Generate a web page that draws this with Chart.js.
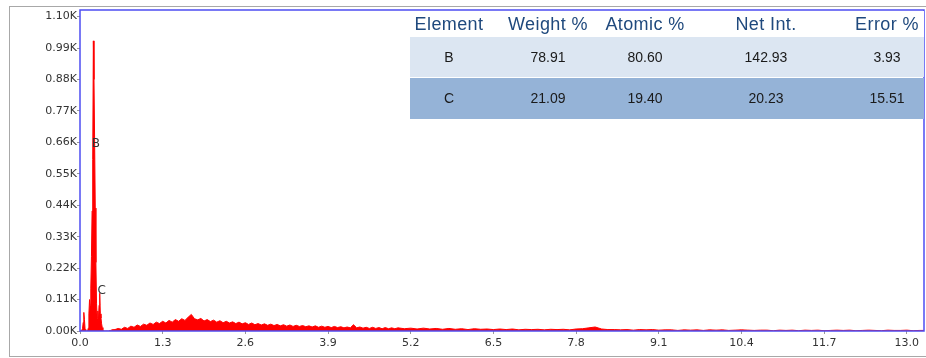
<!DOCTYPE html>
<html>
<head>
<meta charset="utf-8">
<script src="https://cdn.jsdelivr.net/npm/chart.js@4.4.1/dist/chart.umd.min.js"></script>
<style>
  html, body { margin: 0; padding: 0; background: #fff; overflow: hidden; }
  #wrap { position: relative; width: 926px; height: 358px; }
  #frame { position: absolute; left: 9px; top: 6px; width: 940px; height: 349px; border: 1px solid #a8a8a8; }
  #spectrum { position: absolute; left: 0; top: 0; }
  #tbl { position: absolute; left: 410px; top: 11px; width: 514px; font-family: "Liberation Sans", Arial, sans-serif; }
  .row { position: relative; width: 100%; }
  .cell { position: absolute; top: 0; text-align: center; white-space: nowrap; }
  .head { height: 26px; background: #fff; color: #1f497d; font-size: 18px; letter-spacing: 0.4px; }
  .head .cell { line-height: 26px; }
  .r1 { height: 40px; background: #dce6f2; margin-bottom: 1px; }
  .r2 { height: 41px; background: #95b3d7; }
  .r1 .cell, .r2 .cell { line-height: 40px; font-size: 14px; color: #1a1a1a; }
</style>
</head>
<body>
<div id="wrap">
  <div id="frame"></div>
  <canvas id="spectrum" width="926" height="358"></canvas>
  <div id="tbl"></div>
</div>
<script>
// low energy region, 0.01 keV channels starting at 0.00
const lowStart = 0.0, lowStep = 0.01;
const lowCounts = [0, 0, 0, 0, 8, 30, 65, 40, 6, 0, 0, 0, 0, 10, 60, 110, 90, 150, 260, 420,
  600, 1015, 880, 660, 430, 240, 95, 45, 70, 35, 90, 132, 60, 45, 25, 12, 5, 2, 0, 0,
  0, 0, 0, 0, 0, 0, 1, 2, 2, 3, 4];

// background 0.55 - 5.00 keV, 0.05 keV steps
const midStart = 0.55, midStep = 0.05;
const midCounts = [5, 9, 6, 13, 9, 17, 13, 21, 16, 24,
  20, 28, 23, 31, 26, 34, 28, 37, 31, 40,
  34, 43, 37, 48, 58, 43, 39, 44, 35, 40,
  33, 38, 31, 36, 29, 34, 28, 32, 26, 31,
  25, 29, 23, 28, 22, 26, 21, 25, 20, 24,
  19, 23, 18, 22, 17, 21, 16, 20, 16, 19,
  15, 18, 14, 18, 13, 17, 13, 16, 12, 16,
  12, 15, 11, 14, 11, 22, 11, 14, 10, 13,
  9, 13, 9, 12, 8, 12, 8, 11, 8, 11];

// background 5.1 - 13.3 keV, 0.1 keV steps
const highStart = 5.1, highStep = 0.1;
const highCounts = [8, 10, 7, 10, 7, 9, 6, 9, 6, 8,
  5, 8, 6, 7, 5, 7, 5, 7, 4, 6,
  5, 6, 4, 6, 5, 6, 4, 7, 8, 11,
  14, 7, 5, 5, 4, 5, 3, 5, 4, 5,
  3, 4, 4, 2, 4, 3, 4, 2, 4, 3,
  4, 2, 3, 4, 3, 2, 3, 3, 1, 3,
  2, 3, 1, 3, 2, 3, 1, 2, 3, 2,
  3, 1, 2, 3, 2, 1, 3, 2, 2, 3,
  1, 2, 2];

const peakNames = ['B', 'C'];
const peakEnergy = [0.183, 0.277];
const peakLabelCounts = [654, 142];

const tableHeaders = ['Element', 'Weight %', 'Atomic %', 'Net Int.', 'Error %'];
const tableElements = ['B', 'C'];
const weightPct = ['78.91', '21.09'];
const atomicPct = ['80.60', '19.40'];
const netInt = ['142.93', '20.23'];
const errorPct = ['3.93', '15.51'];

function toPoints(start, step, counts) {
  return counts.map((c, i) => ({ x: +(start + i * step).toFixed(3), y: c }));
}
const points = [].concat(
  toPoints(lowStart, lowStep, lowCounts),
  toPoints(midStart, midStep, midCounts),
  toPoints(highStart, highStep, highCounts)
);

// table overlay
const colCenters = [39, 138, 235, 356, 477];
const colW = 100;
function makeRow(cls, vals) {
  const r = document.createElement('div');
  r.className = 'row ' + cls;
  vals.forEach((v, i) => {
    const c = document.createElement('div');
    c.className = 'cell';
    c.style.left = (colCenters[i] - colW / 2) + 'px';
    c.style.width = colW + 'px';
    c.textContent = v;
    r.appendChild(c);
  });
  return r;
}
const tbl = document.getElementById('tbl');
tbl.appendChild(makeRow('head', tableHeaders));
tableElements.forEach((el, i) => {
  tbl.appendChild(makeRow(i === 0 ? 'r1' : 'r2', [el, weightPct[i], atomicPct[i], netInt[i], errorPct[i]]));
});

const framePlugin = {
  id: 'framePlugin',
  afterDraw(chart) {
    const { ctx, chartArea: a, scales } = chart;
    ctx.save();
    ctx.font = '12px "DejaVu Sans"';
    ctx.fillStyle = '#333';
    ctx.textAlign = 'left';
    ctx.textBaseline = 'middle';
    peakNames.forEach((n, i) => {
      ctx.fillText(n, scales.x.getPixelForValue(peakEnergy[i]), scales.y.getPixelForValue(peakLabelCounts[i]));
    });
    ctx.strokeStyle = '#4d4df2';
    ctx.lineWidth = 1.5;
    ctx.strokeRect(a.left, a.top, a.right - a.left, a.bottom - a.top);
    ctx.restore();
  }
};

const ctx = document.getElementById('spectrum').getContext('2d');
const spectrumChart = new Chart(ctx, {
  type: 'line',
  data: {
    datasets: [{
      label: 'Counts',
      data: points,
      fill: 'origin',
      backgroundColor: '#ff0000',
      borderColor: '#ff0000',
      borderWidth: 1,
      pointRadius: 0,
      tension: 0
    }]
  },
  options: {
    responsive: false,
    animation: false,
    layout: { padding: { left: 0, top: 10, right: 2, bottom: 0 } },
    plugins: { legend: { display: false }, tooltip: { enabled: false } },
    scales: {
      x: {
        type: 'linear',
        min: 0,
        max: 13.27,
        afterFit(s) { s.height = 27; },
        border: { display: false },
        grid: { drawOnChartArea: false, tickLength: 3, color: '#999' },
        ticks: {
          stepSize: 1.3,
          includeBounds: false,
          maxRotation: 0,
          padding: 3,
          color: '#333',
          font: { family: 'DejaVu Sans', size: 11 },
          callback: v => v.toFixed(1)
        }
      },
      y: {
        min: 0,
        max: 1123,
        afterFit(s) { s.width = 80; },
        border: { display: false },
        grid: { drawOnChartArea: false, tickLength: 3, color: '#999' },
        ticks: {
          stepSize: 110,
          includeBounds: false,
          padding: 0,
          color: '#333',
          font: { family: 'DejaVu Sans', size: 11 },
          callback: v => (v / 1000).toFixed(2) + 'K'
        }
      }
    }
  },
  plugins: [framePlugin]
});
</script>
</body>
</html>
